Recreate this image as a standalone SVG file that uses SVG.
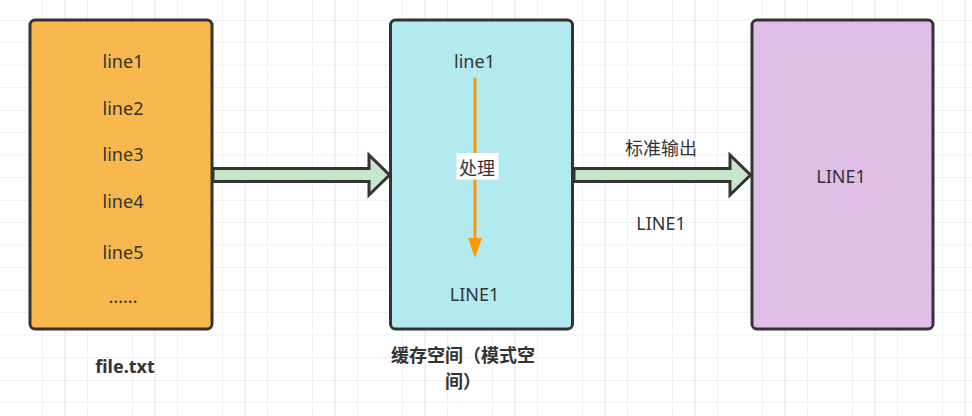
<svg xmlns="http://www.w3.org/2000/svg" width="972" height="416" viewBox="0 0 972 416">
  <defs>
    <pattern id="grid" patternUnits="userSpaceOnUse" x="20" y="20" width="90" height="90">
      <path d="M22.5 0V90M67.5 0V90M0 22.5H90M0 45H90M0 67.5H90" stroke="#f1f1f1" stroke-width="1" fill="none"/>
      <path d="M45 0V90M0 0H90" stroke="#e4e4e4" stroke-width="1" fill="none"/>
    </pattern>
    <style>
      .box { stroke: #333333; stroke-width: 3; }
      .t { font-family: "Noto Sans", "Noto Sans CJK SC", sans-serif; font-size: 18px; fill: #333333; text-anchor: middle; }
      .b { font-weight: bold; }
      .conn { fill: #c8e6c9; stroke: #333333; stroke-width: 3; stroke-linejoin: miter; }
    </style>
  </defs>
  <rect width="972" height="416" fill="#ffffff"/>
  <rect width="972" height="416" fill="url(#grid)"/>

  <g id="file">
    <rect class="box" x="30" y="20" width="182" height="309" rx="5" fill="#f8b84e"/>
    <text class="t" x="123" y="68">line1</text>
    <text class="t" x="123" y="115">line2</text>
    <text class="t" x="123" y="161">line3</text>
    <text class="t" x="123" y="208">line4</text>
    <text class="t" x="123" y="259">line5</text>
    <text class="t" x="123" y="303">......</text>
    <text class="t b" x="125" y="373">file.txt</text>
  </g>

  <g id="buffer">
    <rect class="box" x="390.5" y="20" width="182" height="309" rx="5" fill="#b3eaf0"/>
    <text class="t" x="474.5" y="68">line1</text>
    <line x1="475" y1="78" x2="475" y2="240" stroke="#ff9900" stroke-width="3"/>
    <polygon points="468,238 482,238 475,258" fill="#ff9900"/>
    <rect x="456.5" y="153" width="42" height="26.5" fill="#ffffff"/>
    <text class="t" x="477" y="175">处理</text>
    <text class="t" x="474.5" y="301">LINE1</text>
    <text class="t b" x="463" y="362" font-size="19">缓存空间（模式空</text>
    <text class="t b" x="463" y="388" font-size="19">间）</text>
  </g>

  <g id="output">
    <rect class="box" x="752" y="20" width="181" height="309" rx="5" fill="#e1bee7"/>
    <text class="t" x="841" y="183">LINE1</text>
  </g>

  <g id="connectors">
    <polygon class="conn" points="213,168.5 369,168.5 369,155 389.5,175 369,195 369,181.5 213,181.5"/>
    <polygon class="conn" points="574,168.5 730,168.5 730,155 750.5,175 730,195 730,181.5 574,181.5"/>
    <text class="t" x="661" y="155">标准输出</text>
    <text class="t" x="661" y="230">LINE1</text>
  </g>
</svg>
